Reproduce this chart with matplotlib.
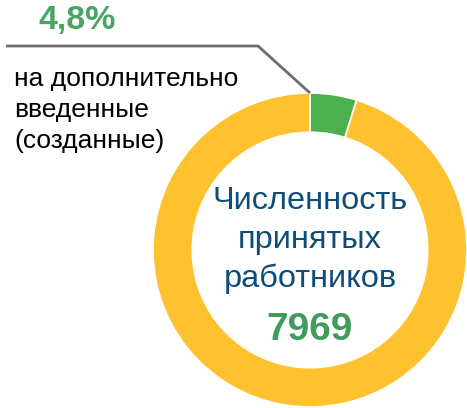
import matplotlib.pyplot as plt

plt.rcParams["font.family"] = ["Liberation Sans", "DejaVu Sans"]

shares = [4.8, 95.2]
slice_colors = ["#4CB050", "#FFC12E"]
share_label = "4,8%"
share_note = "на дополнительно\nвведенные\n(созданные)"
center_title = "Численность\nпринятых\nработников"
total_hired = 7969

W, H = 467, 408
fig = plt.figure(figsize=(W / 100, H / 100), dpi=100)
ax = fig.add_axes([0, 0, 1, 1])

# donut, pixel coordinates with y flipped (origin bottom-left)
cx, cy, r = 310, H - 250, 157
ax.pie(shares, colors=slice_colors, startangle=90, counterclock=False,
       center=(cx, cy), radius=r,
       wedgeprops=dict(width=r * 0.25, edgecolor="white", linewidth=1.2))

ax.set_xlim(0, W)
ax.set_ylim(0, H)
ax.set_aspect("equal")
ax.axis("off")

# leader line from the green slice to the label
ax.plot([6, 258, cx], [H - 46, H - 46, cy + r], color="#6E6E6E", lw=2,
        solid_capstyle="butt", zorder=3)

ax.text(77, H - 21, share_label, color="#4AA564", fontsize=24.5,
        fontweight="bold", ha="center", va="center")
ax.text(14, H - 110, share_note, color="black", fontsize=19,
        ha="left", va="center", linespacing=1.38)

ax.text(cx, H - 240, center_title, color="#0E4C7A", fontsize=23.4,
        ha="center", va="center", linespacing=1.36)
ax.text(cx, H - 330, f"{total_hired}", color="#3F9B5E", fontsize=28,
        fontweight="bold", ha="center", va="center")

fig.savefig("out.png", dpi=100)
